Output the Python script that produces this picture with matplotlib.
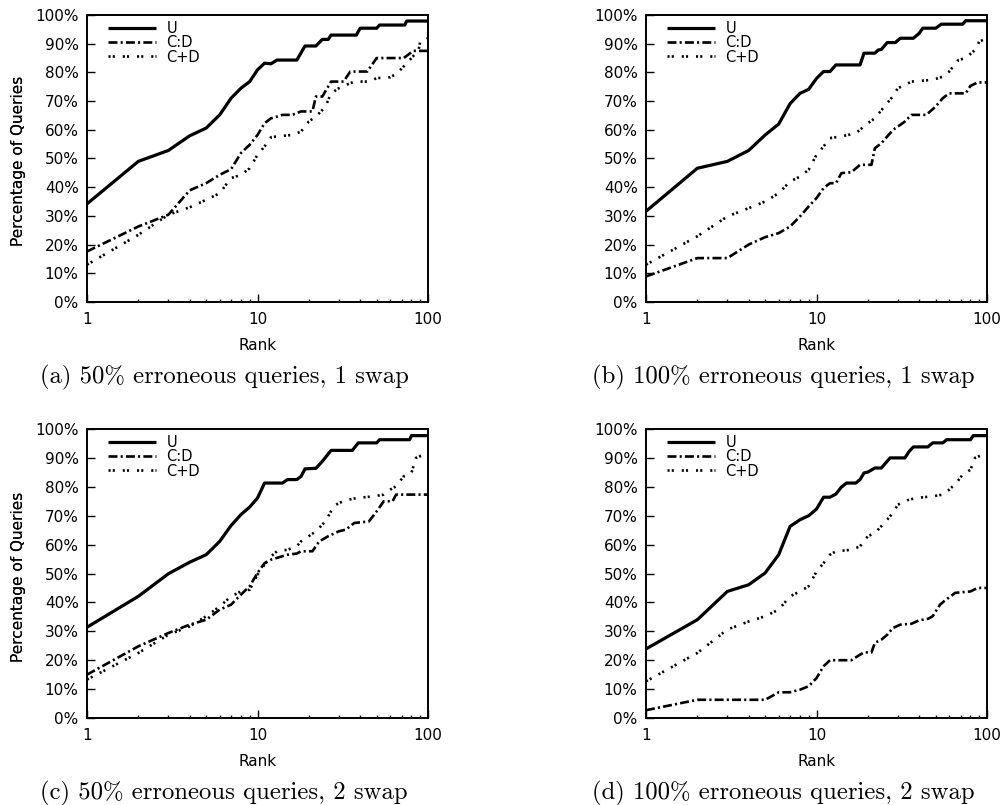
import matplotlib
matplotlib.use("Agg")
import matplotlib.pyplot as plt
from matplotlib.ticker import FixedLocator, NullFormatter

plt.rcParams['font.family'] = ['DejaVu Sans']

series_names = ["U", "C:D", "C+D"]
captions = ["(a) 50% erroneous queries, 1 swap",
            "(b) 100% erroneous queries, 1 swap",
            "(c) 50% erroneous queries, 2 swap",
            "(d) 100% erroneous queries, 2 swap"]
y_ticks = [0, 10, 20, 30, 40, 50, 60, 70, 80, 90, 100]
x_ticks = [1, 10, 100]

# (a) 50% erroneous, 1 swap
a_u_rank = [1, 2, 3, 4, 5, 6, 7, 8, 9, 10, 11, 12, 13, 17, 19, 22, 24, 26, 27, 38, 40, 50, 52, 73, 75, 100]
a_u_pct = [34.2, 49, 52.8, 57.9, 60.6, 65.2, 71, 74.5, 76.8, 80.9, 83.2, 83, 84.3, 84.3, 89.2, 89.2, 91.5, 91.5, 93, 93, 95.4, 95.4, 96.5, 96.5, 97.9, 97.9]
a_cd_rank = [1, 2, 3, 4, 5, 6, 7, 8, 9, 10, 11, 12, 13, 14, 16, 18, 21, 22, 24, 27, 32, 35, 44, 50, 72, 82, 100]
a_cd_pct = [17.6, 26.3, 30.4, 38.9, 41.4, 44.3, 46.3, 51.9, 54.8, 58.2, 62.3, 64, 64.6, 65.2, 65.2, 66.4, 66.4, 71.6, 71.6, 76.8, 76.8, 80.3, 80.3, 85, 85, 87.5, 87.5]
a_cpd_rank = [1, 2, 3, 4, 5, 6, 7, 8, 9, 10, 11, 12, 13, 16, 18, 20, 22, 25, 27, 30, 33, 37, 45, 50, 60, 66, 75, 80, 88, 90, 100]
a_cpd_pct = [13, 23.4, 30.4, 33, 35.6, 37.9, 43.2, 44.3, 46.6, 51.3, 54.2, 57.4, 57.7, 58.2, 59.4, 62.9, 64.6, 68, 72.7, 74.5, 75.6, 76.8, 76.8, 78, 78.3, 79.7, 83.2, 85, 87.8, 90.7, 91.9]

# (b) 100% erroneous, 1 swap
b_u_rank = [1, 2, 3, 4, 5, 6, 7, 8, 9, 10, 11, 12, 13, 18, 19, 22, 23, 24, 26, 29, 31, 37, 40, 42, 50, 54, 72, 75, 100]
b_u_pct = [31.6, 46.6, 49, 52.8, 58.2, 62, 69.1, 72.7, 74.1, 77.9, 80.3, 80.3, 82.6, 82.6, 86.7, 86.7, 87.8, 88, 90.4, 90.4, 91.9, 91.9, 93.6, 95.4, 95.4, 96.8, 96.8, 98, 98]
b_cd_rank = [1, 2, 3, 4, 5, 6, 7, 8, 9, 10, 11, 12, 13, 14, 16, 18, 21, 22, 24, 27, 29, 31, 33, 36, 44, 50, 55, 60, 75, 80, 88, 100]
b_cd_pct = [8.9, 15.3, 15.3, 20, 22.6, 24, 26.3, 29.8, 33.3, 36.2, 39.7, 41.4, 41.4, 44.9, 45.2, 47.8, 47.8, 53.6, 55.3, 58.8, 60.6, 61.7, 62.9, 65.2, 65.2, 68.1, 71, 72.7, 72.7, 75.3, 76.5, 76.5]
b_cpd_rank = [1, 2, 3, 4, 5, 6, 7, 8, 9, 10, 11, 12, 14, 17, 20, 22, 25, 28, 30, 33, 36, 48, 55, 60, 68, 75, 85, 90, 100]
b_cpd_pct = [13, 22.9, 29.8, 32.7, 35, 37.9, 42, 43.7, 46.1, 51.3, 54.2, 57.1, 57.7, 58.8, 62.3, 64, 68.1, 71.6, 74.5, 75.6, 76.8, 77.4, 78.5, 80.3, 84.3, 85, 87.8, 90.7, 91.9]

# (c) 50% erroneous, 2 swap
c_u_rank = [1, 2, 3, 4, 5, 6, 7, 8, 9, 10, 11, 14, 15, 17, 18, 19, 22, 24, 27, 36, 39, 50, 52, 78, 80, 100]
c_u_pct = [31.4, 42.1, 49.9, 53.9, 56.5, 61.1, 66.6, 70.4, 73, 76.1, 81.3, 81.3, 82.5, 82.5, 83.6, 86.2, 86.4, 88.8, 92.6, 92.6, 95.2, 95.2, 96.3, 96.3, 97.7, 97.7]
c_cd_rank = [1, 2, 3, 4, 5, 6, 7, 8, 9, 10, 11, 12, 13, 15, 17, 18, 21, 23, 26, 30, 33, 37, 45, 50, 55, 62, 65, 100]
c_cd_pct = [15, 24.8, 29.4, 32.3, 34, 37.5, 39.2, 42.7, 45.6, 50.2, 53.6, 54.8, 55.4, 56.5, 56.9, 57.7, 57.7, 61.1, 62.9, 64.6, 65.2, 67.5, 68, 71.5, 75, 75, 77.3, 77.3]
c_cpd_rank = [1, 2, 3, 4, 5, 6, 7, 8, 9, 10, 11, 12, 13, 15, 17, 18, 20, 22, 25, 28, 30, 34, 38, 48, 55, 60, 65, 72, 80, 85, 100]
c_cpd_pct = [13.3, 22.5, 28.8, 31.7, 35.2, 38.6, 42.1, 43.8, 44.4, 49.6, 53.1, 55.9, 57.7, 58.2, 59.4, 61.1, 62.9, 64.6, 68, 73.2, 74.4, 75.5, 76.1, 76.7, 77.3, 79, 80.2, 83.6, 84.8, 90, 91.7]

# (d) 100% erroneous, 2 swap
d_u_rank = [1, 2, 3, 4, 5, 6, 7, 8, 9, 10, 11, 12, 13, 14, 15, 17, 18, 19, 20, 22, 24, 27, 33, 35, 37, 45, 48, 55, 58, 80, 83, 100]
d_u_pct = [23.9, 34, 43.8, 46.1, 50.2, 56.5, 66.3, 68.6, 70, 72.3, 76.4, 76.4, 77.5, 79.9, 81.3, 81.3, 82.5, 84.8, 85.1, 86.5, 86.5, 90, 90, 92.3, 93.8, 93.8, 95.2, 95.2, 96.3, 96.3, 97.7, 97.7]
d_cd_rank = [1, 2, 3, 5, 6, 7, 8, 9, 10, 11, 12, 16, 18, 19, 21, 22, 24, 26, 28, 31, 36, 40, 45, 48, 53, 56, 65, 80, 88, 100]
d_cd_pct = [2.7, 6.3, 6.3, 6.3, 8.9, 8.9, 9.8, 11, 13.8, 17.9, 20, 20, 21.9, 22.7, 22.7, 26, 27.1, 28.8, 31.1, 32.3, 32.6, 33.8, 34.3, 35.2, 39.2, 40.4, 43.3, 43.8, 45, 45]
d_cpd_rank = [1, 2, 3, 4, 5, 6, 7, 8, 9, 10, 11, 12, 13, 16, 18, 20, 22, 25, 28, 30, 34, 38, 48, 55, 60, 66, 72, 80, 85, 100]
d_cpd_pct = [12.7, 22.5, 30.6, 33.4, 35.2, 37.5, 42.1, 43.8, 45.6, 50.7, 53.6, 56.5, 57.7, 58.2, 59.4, 62.9, 64, 67.5, 70.9, 73.8, 75.3, 76.1, 76.7, 77.3, 79, 81.3, 84.2, 85.9, 90, 91.7]

panels = [
    [(a_u_rank, a_u_pct), (a_cd_rank, a_cd_pct), (a_cpd_rank, a_cpd_pct)],
    [(b_u_rank, b_u_pct), (b_cd_rank, b_cd_pct), (b_cpd_rank, b_cpd_pct)],
    [(c_u_rank, c_u_pct), (c_cd_rank, c_cd_pct), (c_cpd_rank, c_cpd_pct)],
    [(d_u_rank, d_u_pct), (d_cd_rank, d_cd_pct), (d_cpd_rank, d_cpd_pct)],
]

W, H = 1005, 805
fig = plt.figure(figsize=(W / 100, H / 100), dpi=100)

# pixel boxes of the four axes: left, top, right, bottom
boxes = [(87, 15, 428, 302), (646, 15, 987, 302),
         (87, 429, 428, 718), (646, 429, 987, 718)]
caption_x = [224, 783, 224, 783]

styles = [
    dict(color='black', lw=2.3, ls='-', solid_capstyle='butt'),
    dict(color='black', lw=1.9, ls=(0, (3.4, 1.2, 0.8, 1.2)), dash_capstyle='butt'),
    dict(color='black', lw=1.9, ls=(0, (0.8, 0.8, 0.8, 3.0)), dash_capstyle='butt'),
]

for i, (box, data) in enumerate(zip(boxes, panels)):
    l, t, r, b = box
    ax = fig.add_axes([l / W, 1 - b / H, (r - l) / W, (b - t) / H])
    for name, (rk, pc), st in zip(series_names, data, styles):
        ax.plot(rk, pc, label=name, **st)
    ax.set_xscale('log')
    ax.set_xlim(1, 100)
    ax.set_ylim(0, 100)
    ax.xaxis.set_major_locator(FixedLocator(x_ticks))
    ax.set_xticklabels([str(v) for v in x_ticks])
    ax.xaxis.set_minor_locator(FixedLocator([2, 3, 4, 5, 6, 7, 8, 9, 20, 30, 40, 50, 60, 70, 80, 90]))
    ax.xaxis.set_minor_formatter(NullFormatter())
    ax.set_yticks(y_ticks)
    ax.set_yticklabels([f"{v}%" for v in y_ticks])
    ax.tick_params(axis='both', which='both', direction='in', labelsize=11, width=1.0,
                   top=False, right=False)
    ax.tick_params(axis='y', which='major', length=6, pad=6)
    ax.tick_params(axis='x', which='major', length=5.5, pad=7)
    ax.tick_params(axis='x', which='minor', length=2.5)
    for sp in ax.spines.values():
        sp.set_linewidth(1.4)

    ax.set_ylabel("Percentage of Queries", fontsize=11, va='center')
    ax.yaxis.set_label_coords((18.5 - l) / (r - l), 0.49)
    ax.set_xlabel("Rank", fontsize=11, va='center')
    ax.xaxis.set_label_coords(0.5, -43 / (b - t))

    ax.legend(loc='upper left', bbox_to_anchor=(21 / (r - l), 1 - 6 / (b - t)),
              frameon=False, fontsize=10.5, handlelength=3.3, handletextpad=0.7,
              labelspacing=-0.05, borderpad=0, borderaxespad=0)

    fig.text(caption_x[i] / W, 1 - (b + 81) / H, captions[i],
             family=['cmr10', 'DejaVu Serif'], fontsize=17.8,
             ha='center', va='baseline')

fig.savefig("out.png", dpi=100)
